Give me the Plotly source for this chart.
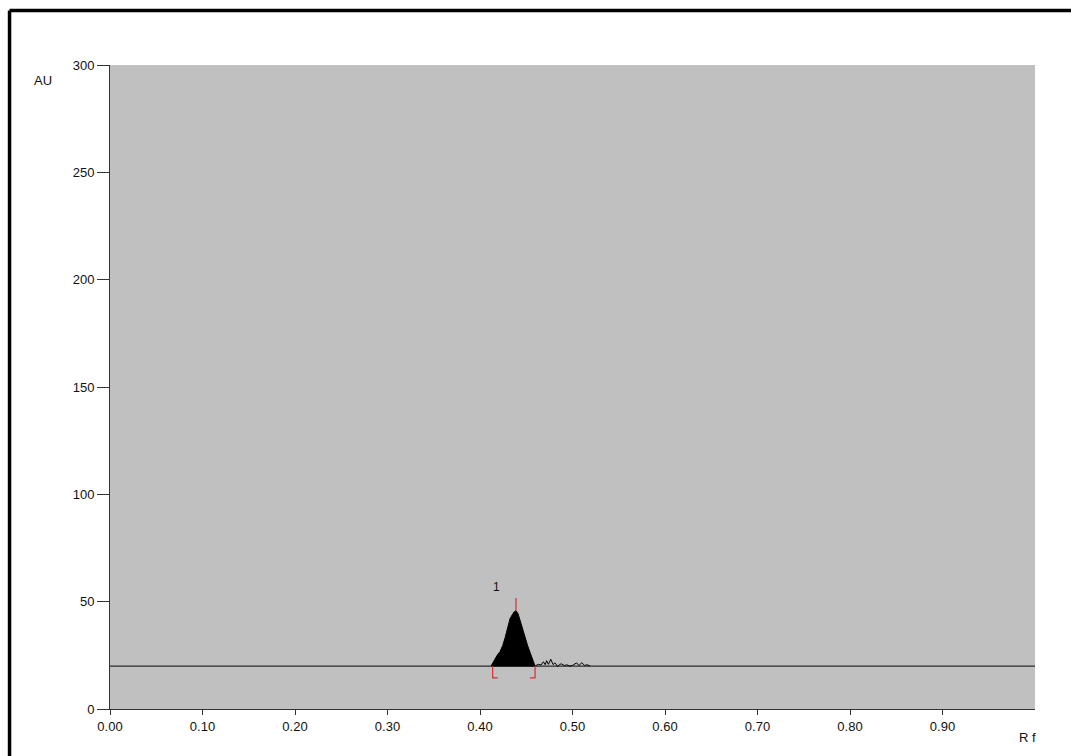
import plotly.graph_objects as go

# ---- data ----
baseline_au = 20
x_range = [0.0, 1.0]
y_range = [0, 300]
x_ticks = [0.0, 0.1, 0.2, 0.3, 0.4, 0.5, 0.6, 0.7, 0.8, 0.9]
x_tick_labels = ["0.00", "0.10", "0.20", "0.30", "0.40", "0.50", "0.60", "0.70", "0.80", "0.90"]
y_ticks = [0, 50, 100, 150, 200, 250, 300]

peak_rf = [0.4120, 0.4137, 0.4160, 0.4185, 0.4216, 0.4245, 0.4270, 0.4300, 0.4324, 0.4350,
           0.4370, 0.4389, 0.4410, 0.4432, 0.4460, 0.4486, 0.4515, 0.4540, 0.4573, 0.4595]
peak_au = [20.0, 21.5, 23.5, 25.0, 26.7, 29.5, 33.0, 38.0, 42.0, 44.0,
           45.3, 45.8, 44.5, 41.5, 37.0, 33.0, 29.5, 26.5, 22.8, 20.0]

noise_rf = [0.4595, 0.4630, 0.4660, 0.4685, 0.4705, 0.4720, 0.4740, 0.4765, 0.4790, 0.4810,
            0.4840, 0.4860, 0.4883, 0.4910, 0.4937, 0.4970, 0.5000, 0.5045, 0.5070, 0.5100,
            0.5130, 0.5160, 0.5190]
noise_au = [20.0, 20.8, 20.5, 22.0, 20.6, 22.5, 20.8, 23.2, 20.7, 21.5,
            19.8, 20.8, 21.0, 20.2, 20.6, 20.0, 20.3, 21.5, 20.2, 21.6, 20.3, 20.6, 20.0]

peak_number = "1"
peak_label_rf = 0.4181
peak_label_au = 57
peak_max_rf = 0.4389
peak_max_au = 45.8
peak_tick_top_au = 51.7
peak_start_rf = 0.4137
peak_end_rf = 0.4595
bracket_bottom_au = 14.5
bracket_arm_rf = 0.0055

grey = "#c0c0c0"
font_family = "Arial, Liberation Sans, sans-serif"

fig = go.Figure()

# baseline
fig.add_trace(go.Scatter(x=x_range, y=[baseline_au, baseline_au], mode="lines",
                         line=dict(color="#2b2b2b", width=1.2), hoverinfo="skip"))

# filled peak
fig.add_trace(go.Scatter(x=peak_rf + [peak_rf[-1], peak_rf[0]],
                         y=peak_au + [baseline_au, baseline_au],
                         mode="lines", fill="toself", fillcolor="black",
                         line=dict(color="black", width=1)))

# noise after peak
fig.add_trace(go.Scatter(x=noise_rf, y=noise_au, mode="lines",
                         line=dict(color="black", width=1)))

# red peak-max tick
fig.add_trace(go.Scatter(x=[peak_max_rf, peak_max_rf], y=[peak_max_au, peak_tick_top_au],
                         mode="lines", line=dict(color="#d03030", width=1.2)))
# red start bracket
fig.add_trace(go.Scatter(x=[peak_start_rf, peak_start_rf, peak_start_rf + bracket_arm_rf],
                         y=[baseline_au, bracket_bottom_au, bracket_bottom_au],
                         mode="lines", line=dict(color="#d03030", width=1.2)))
# red end bracket
fig.add_trace(go.Scatter(x=[peak_end_rf, peak_end_rf, peak_end_rf - bracket_arm_rf],
                         y=[baseline_au, bracket_bottom_au, bracket_bottom_au],
                         mode="lines", line=dict(color="#d03030", width=1.2)))

fig.add_annotation(x=peak_label_rf, y=peak_label_au, text=peak_number, showarrow=False,
                   xanchor="center", yanchor="middle",
                   font=dict(size=12, color="#111", family=font_family))
fig.add_annotation(xref="paper", yref="paper", x=-0.0724, y=0.9767, text="AU",
                   showarrow=False, xanchor="center", yanchor="middle",
                   font=dict(size=13, color="#111", family=font_family))
fig.add_annotation(xref="paper", yref="paper", x=0.9924, y=-0.0435, text="R f",
                   showarrow=False, xanchor="center", yanchor="middle",
                   font=dict(size=13, color="#111", family=font_family))

# outer frame (top and left)
fig.add_shape(type="line", xref="paper", yref="paper", x0=-0.1086, x1=1.05, y0=1.0846, y1=1.0846,
              line=dict(color="black", width=3.5))
fig.add_shape(type="line", xref="paper", yref="paper", x0=-0.1086, x1=-0.1086, y0=1.0846, y1=-0.1,
              line=dict(color="black", width=3.5))

fig.update_layout(
    width=1071, height=756,
    margin=dict(l=110, r=36, t=65, b=47),
    paper_bgcolor="white", plot_bgcolor=grey,
    showlegend=False,
    font=dict(family=font_family, size=13, color="#111"),
    xaxis=dict(range=x_range, tickvals=x_ticks, ticktext=x_tick_labels,
               showgrid=False, zeroline=False, showline=True, linecolor="#333", linewidth=1,
               ticks="outside", ticklen=5, tickcolor="#333", fixedrange=True,
               tickfont=dict(size=13)),
    yaxis=dict(range=y_range, tickvals=y_ticks, showgrid=False, zeroline=False,
               showline=True, linecolor="#333", linewidth=1,
               ticks="outside", ticklen=12, tickcolor="#333", fixedrange=True,
               tickfont=dict(size=13)),
)

fig.write_html("out.html")
